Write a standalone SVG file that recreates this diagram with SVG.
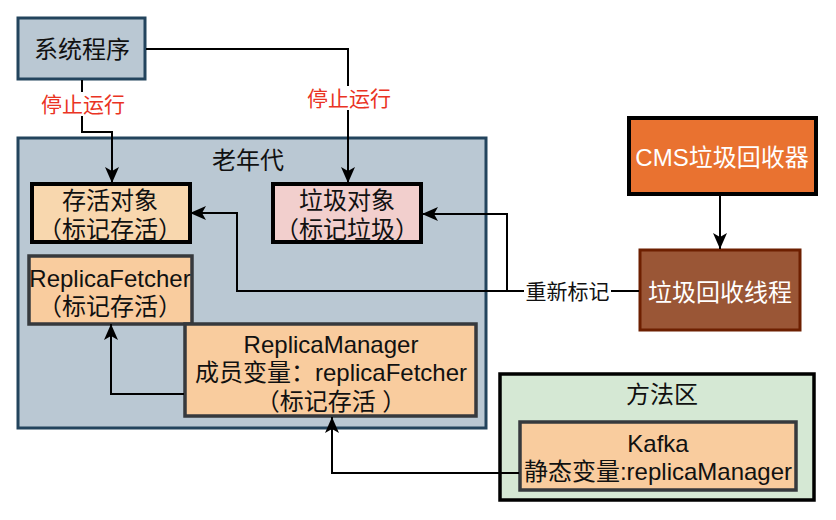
<svg xmlns="http://www.w3.org/2000/svg" width="836" height="520" viewBox="0 0 836 520">
<style>
text{font-family:"Liberation Sans","Noto Sans CJK SC",sans-serif;font-size:24px;fill:#111;text-anchor:middle;dominant-baseline:central}
.lbl{font-size:21px}
.red{fill:#ea3323}
.white{fill:#ffffff}
.conn{fill:none;stroke:#000;stroke-width:2}
.blue{fill:#bac8d3;stroke:#23445d;stroke-width:3}
.peach{fill:#f9cc9e;stroke:#36393d;stroke-width:3.5}
.bg{fill:#ffffff}
</style>
<defs>
<marker id="arr" markerUnits="userSpaceOnUse" markerWidth="16" markerHeight="14" viewBox="0 0 16 14" refX="16" refY="7" orient="auto">
<path d="M0,0 L16,7 L0,14 L4,7 z" fill="#000"/>
</marker>
</defs>

<g id="old-gen">
<rect x="18" y="138" width="468" height="290" class="blue"/>
<text x="248" y="160">老年代</text>
</g>

<g id="method-area">
<rect x="500" y="374" width="314" height="126" fill="#d5e8d4" stroke="#000" stroke-width="3.5"/>
<text x="662" y="394">方法区</text>
</g>

<g id="system-program">
<rect x="18" y="18" width="127" height="61" class="blue"/>
<text x="82" y="49">系统程序</text>
</g>

<g id="live-objects">
<rect x="32" y="184" width="158" height="58" fill="#f8d7ae" stroke="#000" stroke-width="4"/>
<text x="110" y="200">存活对象</text>
<text x="110" y="229">（标记存活）</text>
</g>

<g id="garbage-objects">
<rect x="273" y="184" width="148" height="58" fill="#f2cfcd" stroke="#000" stroke-width="4"/>
<text x="347" y="200">垃圾对象</text>
<text x="347" y="229">（标记垃圾）</text>
</g>

<g id="replica-fetcher">
<rect x="29" y="256" width="163" height="68" class="peach"/>
<text x="110" y="278">ReplicaFetcher</text>
<text x="110" y="306">（标记存活）</text>
</g>

<g id="replica-manager">
<rect x="185" y="324" width="291" height="92" class="peach"/>
<text x="331" y="344">ReplicaManager</text>
<text x="331" y="372.5">成员变量：replicaFetcher</text>
<text x="331" y="401">（标记存活 ）</text>
</g>

<g id="kafka">
<rect x="520" y="422" width="276" height="68" class="peach"/>
<text x="658" y="443">Kafka</text>
<text x="658" y="471.5">静态变量:replicaManager</text>
</g>

<g id="cms-collector">
<rect x="629" y="118" width="187" height="76" fill="#e97230" stroke="#000" stroke-width="4"/>
<text x="722" y="157.5" class="white">CMS垃圾回收器</text>
</g>

<g id="gc-thread">
<rect x="640" y="250" width="160" height="80" fill="#9a5636" stroke="#6d1f00" stroke-width="3"/>
<text x="720" y="292" class="white">垃圾回收线程</text>
</g>

<g id="connectors">
<path class="conn" d="M82,80 V132 H112 V183" marker-end="url(#arr)"/>
<path class="conn" d="M146,49 H348 V183" marker-end="url(#arr)"/>
<path class="conn" d="M639,291 H237 V213 H190" marker-end="url(#arr)"/>
<path class="conn" d="M507,291 V214 H422" marker-end="url(#arr)"/>
<path class="conn" d="M720,195 V249" marker-end="url(#arr)"/>
<path class="conn" d="M184,394 H111 V324" marker-end="url(#arr)"/>
<path class="conn" d="M519,473 H332 V417" marker-end="url(#arr)"/>
<rect x="40" y="92" width="86" height="24" class="bg"/>
<text x="83" y="104" class="lbl red">停止运行</text>
<rect x="306" y="86" width="86" height="24" class="bg"/>
<text x="349" y="98" class="lbl red">停止运行</text>
<rect x="524" y="279" width="87" height="24" class="bg"/>
<text x="567.5" y="291" class="lbl">重新标记</text>
</g>
</svg>
